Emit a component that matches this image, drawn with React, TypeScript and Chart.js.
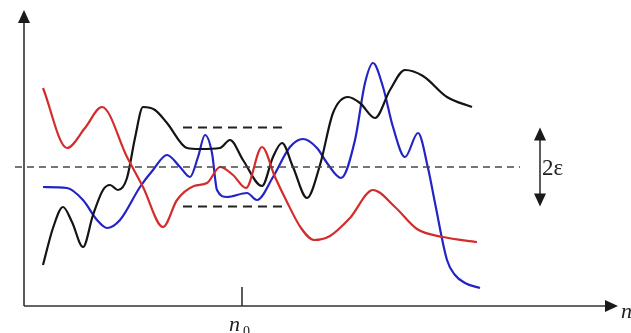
import React, { useEffect, useRef } from "react";
import { Chart, registerables } from "chart.js";
Chart.register(...registerables);

// Series values (x = step n, y = value)
const redX = [19, 43, 61, 78, 103, 119, 139, 153, 170, 183, 196, 209, 222, 238, 251, 263, 277, 290, 306, 326, 349, 371, 393, 419, 453];
const redY = [218, 158, 178, 199, 149, 119, 79, 106, 120, 123, 139, 131, 118, 159, 129, 104, 78, 66, 70, 88, 116, 99, 77, 69, 64];

const blackX = [19, 29, 39, 48, 59, 69, 79, 86, 94, 103, 111, 119, 131, 143, 163, 176, 196, 206, 219, 238, 249, 258, 269, 283, 296, 309, 324, 336, 351, 366, 381, 399, 423, 448];
const blackY = [41, 78, 99, 84, 59, 91, 116, 121, 116, 128, 168, 199, 196, 183, 158, 157, 158, 166, 146, 120, 149, 163, 139, 108, 141, 193, 209, 203, 188, 216, 236, 230, 209, 199];

const blueX = [19, 43, 59, 73, 83, 96, 116, 129, 143, 156, 166, 174, 181, 188, 193, 203, 223, 233, 249, 266, 279, 293, 303, 317, 331, 341, 349, 359, 369, 381, 394, 404, 411, 423, 431, 441, 456];
const blueY = [119, 118, 106, 86, 78, 86, 119, 136, 151, 139, 129, 149, 171, 153, 116, 109, 113, 106, 129, 159, 167, 158, 143, 128, 166, 223, 243, 219, 179, 149, 173, 138, 103, 46, 31, 23, 18];

// Reference level and band
const CENTER = 139;
const EPS = 39.5;
const MID_X = [-9, 496];
const BAND_X = [159, 258];
const ARROW_X = 516;
const N0 = 218;
const X_MAX = 594;
const Y_MAX = 296;

const pts = (xs: number[], ys: number[]) => xs.map((x, i) => ({ x, y: ys[i] }));

const decor = {
  id: "decor",
  afterDatasetsDraw(chart: any) {
    const { ctx, chartArea, scales } = chart;
    const { left, right, top, bottom } = chartArea;
    const xs = scales.x;
    const ys = scales.y;
    ctx.save();
    ctx.strokeStyle = "#333";
    ctx.fillStyle = "#1a1a1a";
    ctx.lineWidth = 1.6;
    ctx.setLineDash([]);
    ctx.beginPath();
    ctx.moveTo(left, bottom);
    ctx.lineTo(left, top + 10);
    ctx.moveTo(left, bottom);
    ctx.lineTo(right - 10, bottom);
    ctx.stroke();
    const tri = (a: number[], b: number[], c: number[]) => {
      ctx.beginPath();
      ctx.moveTo(a[0], a[1]);
      ctx.lineTo(b[0], b[1]);
      ctx.lineTo(c[0], c[1]);
      ctx.closePath();
      ctx.fill();
    };
    tri([left, top], [left - 6, top + 13], [left + 6, top + 13]);
    tri([right, bottom], [right - 13, bottom - 6], [right - 13, bottom + 6]);
    const nx = xs.getPixelForValue(N0);
    ctx.beginPath();
    ctx.moveTo(nx, bottom);
    ctx.lineTo(nx, bottom - 19);
    ctx.stroke();
    const ax = xs.getPixelForValue(ARROW_X);
    const yt = ys.getPixelForValue(CENTER + EPS);
    const yb = ys.getPixelForValue(CENTER - EPS);
    ctx.beginPath();
    ctx.moveTo(ax, yt + 8);
    ctx.lineTo(ax, yb - 8);
    ctx.stroke();
    tri([ax, yt], [ax - 6, yt + 13], [ax + 6, yt + 13]);
    tri([ax, yb], [ax - 6, yb - 13], [ax + 6, yb - 13]);
    ctx.fillStyle = "#222";
    ctx.textBaseline = "middle";
    ctx.textAlign = "left";
    ctx.font = '23px "Liberation Serif"';
    ctx.fillText("2ε", ax + 2, ys.getPixelForValue(CENTER) + 2);
    ctx.textBaseline = "alphabetic";
    ctx.font = 'italic 22px "Liberation Serif"';
    ctx.fillText("n", nx - 13, bottom + 25);
    ctx.font = '14px "Liberation Serif"';
    ctx.fillText("0", nx + 1, bottom + 30);
    ctx.font = 'italic 22px "Liberation Serif"';
    ctx.fillText("n", right + 3, bottom + 12);
    ctx.restore();
  },
};

export default function App() {
  const ref = useRef<HTMLCanvasElement | null>(null);
  useEffect(() => {
    document.body.style.margin = "0";
    const curve = { borderWidth: 2.2, pointRadius: 0, cubicInterpolationMode: "monotone" as const };
    const chart = new Chart(ref.current as HTMLCanvasElement, {
      type: "line",
      data: {
        datasets: [
          {
            label: "mid",
            data: pts(MID_X, [CENTER, CENTER]),
            borderColor: "#4a4a4a",
            borderWidth: 1.5,
            borderDash: [7, 5],
            pointRadius: 0,
            tension: 0,
            clip: false as any,
          },
          {
            label: "upper",
            data: pts(BAND_X, [CENTER + EPS, CENTER + EPS]),
            borderColor: "#222",
            borderWidth: 2,
            borderDash: [9, 6],
            pointRadius: 0,
            tension: 0,
          },
          {
            label: "lower",
            data: pts(BAND_X, [CENTER - EPS, CENTER - EPS]),
            borderColor: "#222",
            borderWidth: 2,
            borderDash: [9, 6],
            pointRadius: 0,
            tension: 0,
          },
          { label: "red", data: pts(redX, redY), borderColor: "#d42c2c", ...curve },
          { label: "black", data: pts(blackX, blackY), borderColor: "#141414", ...curve },
          { label: "blue", data: pts(blueX, blueY), borderColor: "#2424c4", ...curve },
        ],
      },
      options: {
        animation: false,
        responsive: true,
        maintainAspectRatio: false,
        layout: { padding: { left: 24, top: 10, right: 13, bottom: 27 } },
        plugins: { legend: { display: false }, tooltip: { enabled: false } },
        scales: {
          x: { type: "linear", min: 0, max: X_MAX, display: false },
          y: { type: "linear", min: 0, max: Y_MAX, display: false },
        },
      },
      plugins: [decor],
    });
    return () => chart.destroy();
  }, []);
  return (
    <div style={{ position: "fixed", left: 0, top: 0, width: 631, height: 333, background: "#fff" }}>
      <canvas ref={ref} />
    </div>
  );
}
